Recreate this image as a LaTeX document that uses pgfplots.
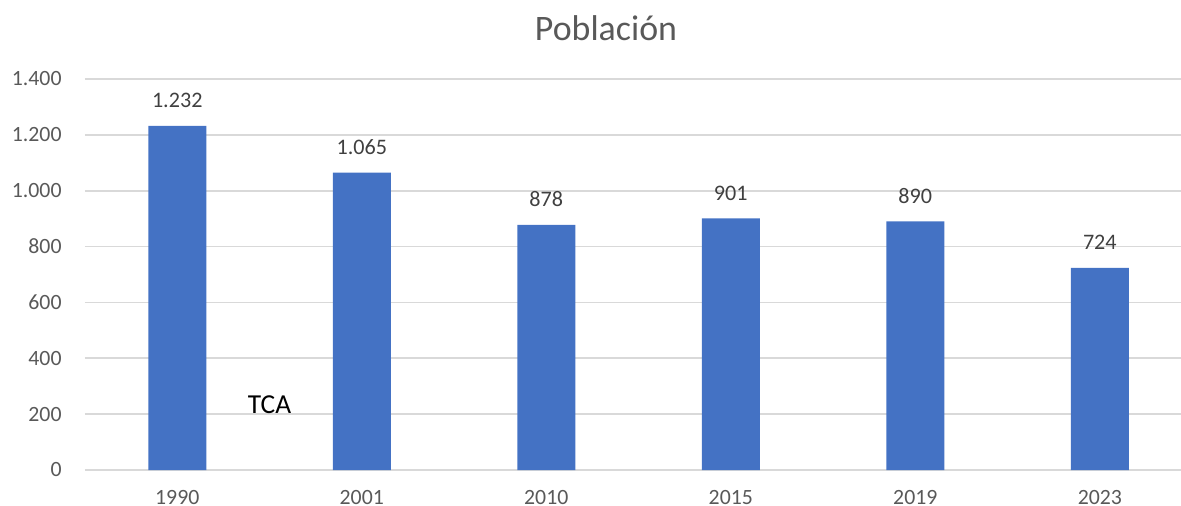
\documentclass[border=0pt]{standalone}
\usepackage{pgfplots}
\pgfplotsset{compat=1.18}
\usepackage{fontspec}
\setmainfont{Carlito}
\definecolor{barblue}{HTML}{4472C4}
\definecolor{ticktxt}{HTML}{595959}
\definecolor{labtxt}{HTML}{404040}
\definecolor{gridgray}{HTML}{D9D9D9}

\begin{document}
\begin{tikzpicture}
\useasboundingbox (0,0) rectangle (11.81,5.05);
\begin{axis}[
  at={(0.85cm,0.35cm)}, anchor=south west,
  scale only axis, width=10.96cm, height=3.91cm,
  xmin=-0.5, xmax=5.44, ymin=0, ymax=1400,
  ytick={0,200,...,1400}, xtick=data,
  xticklabels={1990,2001,2010,2015,2019,2023},
  ymajorgrids, grid style={gridgray, line width=0.5pt},
  axis line style={draw=none}, major tick length=0pt,
  /pgf/number format/.cd, 1000 sep={.}, assume math mode=true,
  /pgfplots/.cd,
  tick label style={font=\fontsize{6.2}{7}\selectfont, text=ticktxt},
  yticklabel style={xshift=-0.11cm},
  xticklabel style={yshift=-0.08cm},
  ybar, bar width=0.58cm,
  nodes near coords,
  nodes near coords align={anchor=base},
  every node near coord/.append style={font=\fontsize{6.3}{7}\selectfont,
    text=labtxt, yshift=0.18cm},
  clip=false,
]
\addplot[fill=barblue, draw=none] coordinates {
  (0,1232) (1,1065) (2,878) (3,901) (4,890) (5,724)};
\node[font=\fontsize{7.8}{9}\selectfont, text=black] at (axis cs:0.5,233) {TCA};
\end{axis}
\node[font=\fontsize{10.2}{12}\selectfont, text=ticktxt] at (6.06,4.77) {Población};
\end{tikzpicture}
\end{document}
